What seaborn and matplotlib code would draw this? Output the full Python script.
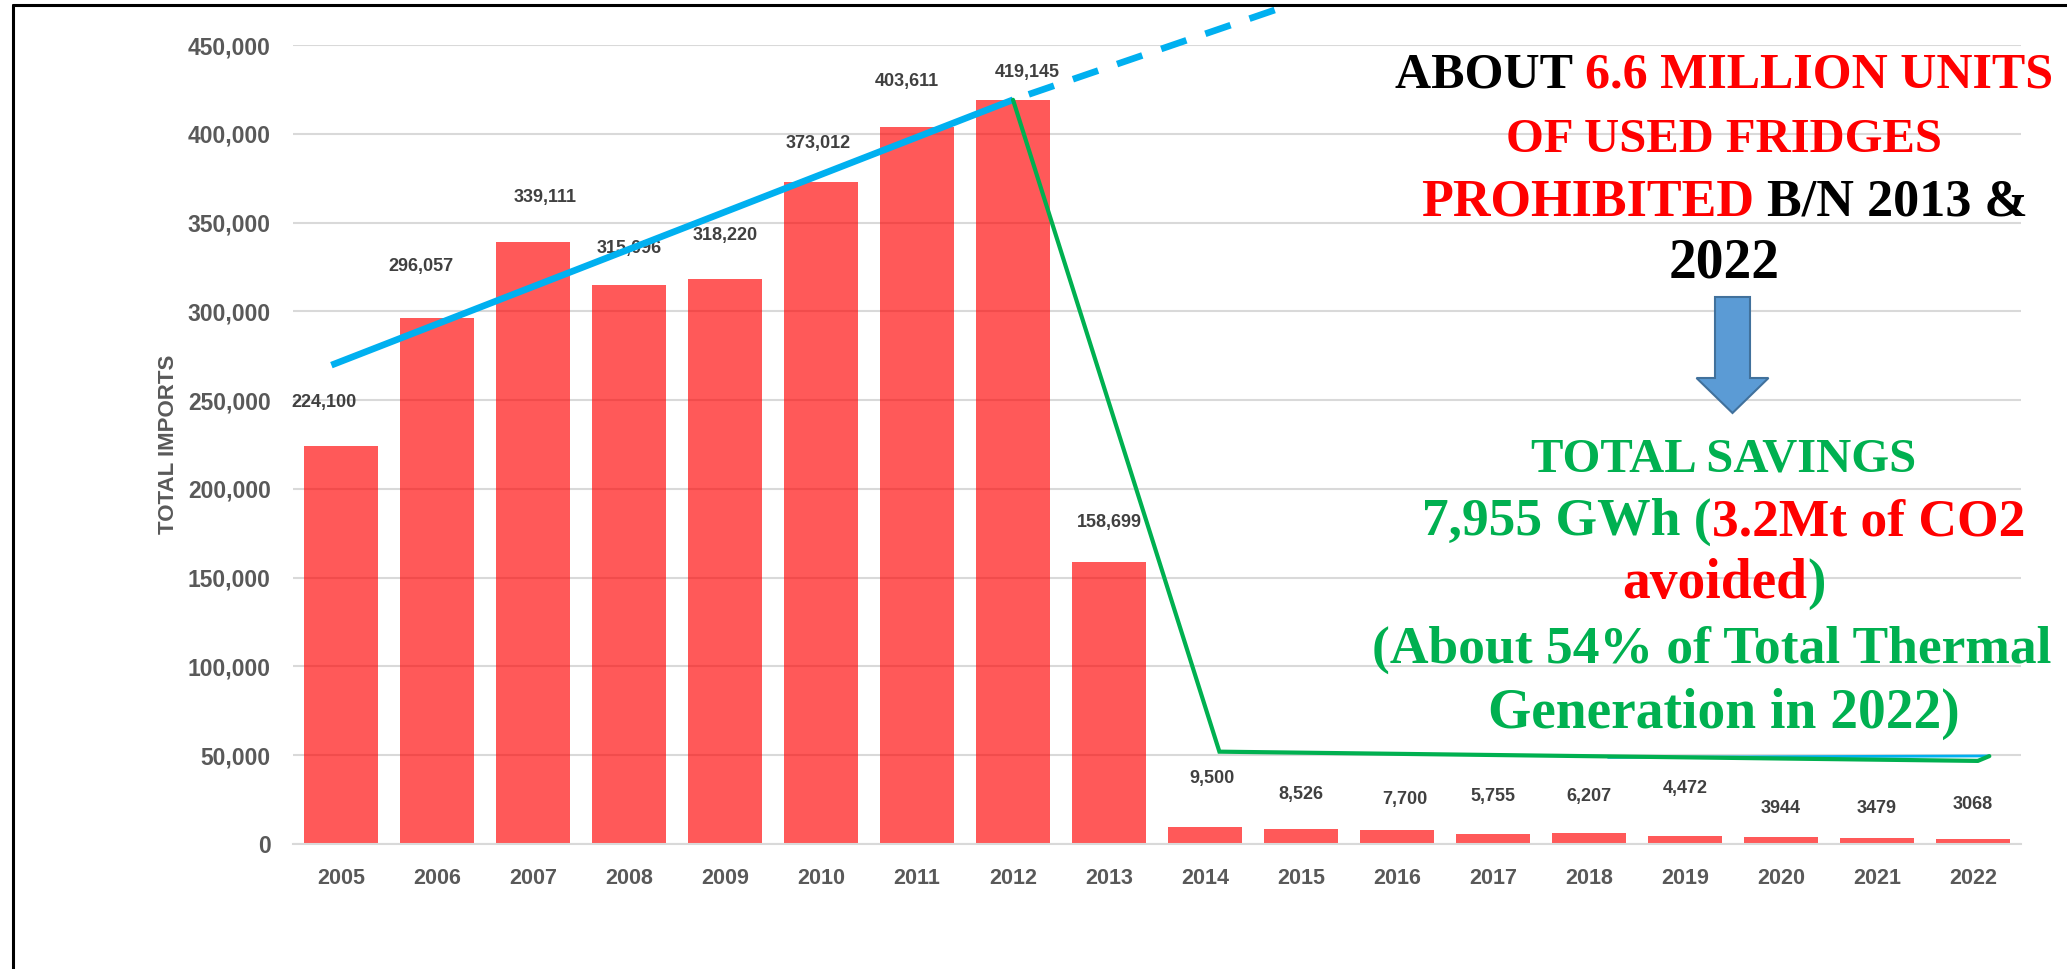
import matplotlib
matplotlib.use("Agg")
import matplotlib.pyplot as plt
from matplotlib.patches import FancyArrow
from matplotlib.lines import Line2D
from matplotlib.font_manager import FontProperties
import seaborn as sns
import pandas as pd

# datos
years = ["2005", "2006", "2007", "2008", "2009", "2010", "2011", "2012", "2013",
         "2014", "2015", "2016", "2017", "2018", "2019", "2020", "2021", "2022"]
imports = [224100, 296057, 339111, 315096, 318220, 373012, 403611, 419145, 158699,
           9500, 8526, 7700, 5755, 6207, 4472, 3944, 3479, 3068]
# las etiquetas de 2020 en adelante no llevan coma
bar_labels = [f"{v:,}" for v in imports[:15]] + [str(v) for v in imports[15:]]

# tendencia (azul) y caida (verde), en indice de categoria / unidades
trend_x = [-0.1, 7]
trend_y = [269700, 419145]
trend_dash_x = [7, 9.85]
trend_dash_y = [419145, 472000]
drop_x = [7, 9.15, 17.05, 17.17]
drop_y = [419145, 52000, 46800, 49500]

# posicion de las etiquetas (a mano, como en el original)
label_y = [248700, 325500, 364000, 335400, 342500, 394400, 429400, 434300, 181000,
           36800, 27900, 25300, 26600, 26800, 31300, 20200, 20200, 22300]
label_dx = [-0.18, -0.17, 0.13, 0, 0, -0.03, -0.11, 0.15, 0,
            0.07, 0, 0.08, 0, 0, 0, 0, 0, 0]

W, H = 2067, 969
sns.set_style("white")
plt.rcParams["font.family"] = ["Liberation Sans", "DejaVu Sans"]

fig = plt.figure(figsize=(W / 100, H / 100), dpi=100)
ax = fig.add_axes([293 / W, 1 - 844 / H, (2021 - 293) / W, (844 - 45) / H])

df = pd.DataFrame({"year": years, "imports": imports})
sns.barplot(data=df, x="year", y="imports", color="red", alpha=0.65, saturation=1,
            width=0.78, linewidth=0, ax=ax)

ax.set_xlim(-0.5, 17.5)
ax.set_ylim(0, 450000)
ax.set_yticks(range(0, 450001, 50000))
ax.set_yticklabels([f"{v:,}" for v in range(0, 450001, 50000)])
ax.yaxis.grid(True, color="#D9D9D9", lw=1.5)
ax.set_axisbelow(True)
for s in ["top", "right", "left"]:
    ax.spines[s].set_visible(False)
ax.spines["bottom"].set_color("#D9D9D9")
ax.spines["bottom"].set_linewidth(1.5)
ax.tick_params(axis="both", length=0, labelcolor="#595959")
ax.tick_params(axis="y", pad=16, labelsize=16.5)
ax.tick_params(axis="x", pad=17, labelsize=15.5)
for t in ax.get_xticklabels() + ax.get_yticklabels():
    t.set_fontweight("bold")
ax.set_xlabel("")
ax.set_ylabel("")
fig.text(169 / W, 1 - 444 / H, "TOTAL IMPORTS", rotation=90, ha="center", va="center",
         fontsize=16, fontweight="bold", color="#595959")

for i, lab in enumerate(bar_labels):
    ax.text(i + label_dx[i], label_y[i], lab, ha="center", va="center", fontsize=13,
            fontweight="bold", color="#404040", zorder=4)

# lineas
ax.plot(trend_x, trend_y, color="#00B0F0", lw=4.8, zorder=6, clip_on=False, solid_capstyle="butt")
ax.plot(trend_dash_x, trend_dash_y, color="#00B0F0", lw=4.8, ls=(4.5, (4, 3)), zorder=6,
        clip_on=False, dash_capstyle="butt")
ax.plot([13.2, 17.17], [48800, 49600], color="#00B0F0", lw=2, zorder=5)
ax.plot(drop_x, drop_y, color="#00B050", lw=3, zorder=6, solid_joinstyle="miter")

# texto grande a la derecha
renderer = fig.canvas.get_renderer()


def ancho(s, fp):
    w1, _, _ = renderer.get_text_width_height_descent("|" + s + "|", fp, ismath=False)
    w0, _, _ = renderer.get_text_width_height_descent("||", fp, ismath=False)
    return w1 - w0


def linea(segs, base_px, size, cx=1724):
    fp = FontProperties(family=["Liberation Serif", "DejaVu Serif"], weight="bold", size=size)
    ws = [ancho(s, fp) for s, c in segs]
    x = cx - sum(ws) / 2
    for (s, c), w in zip(segs, ws):
        fig.text(x / W, 1 - base_px / H, s, color=c, fontproperties=fp,
                 ha="left", va="baseline")
        x += w


k, r, g = "#000000", "#FF0000", "#00B050"
linea([("ABOUT ", k), ("6.6 MILLION UNITS", r)], 88, 36)
linea([("OF USED FRIDGES", r)], 152, 35)
linea([("PROHIBITED", r), (" B/N 2013 &", k)], 215, 37.5)
linea([("2022", k)], 278, 40)
linea([("TOTAL SAVINGS", g)], 472, 35)
linea([("7,955 GWh (", g), ("3.2Mt of CO2", r)], 535, 38.5)
linea([("avoided", r), (")", g)], 598, 40)
linea([("(About 54% of Total Thermal", g)], 663, 38.5, cx=1712)
linea([("Generation in 2022)", g)], 728, 40)

arrow = FancyArrow(1732.5 / W, 1 - 297 / H, 0, -(413 - 297) / H, width=35 / W,
                   head_width=72 / W, head_length=35 / H, length_includes_head=True,
                   fc="#5B9BD5", ec="#41719C", lw=1.5, transform=fig.transFigure)
fig.add_artist(arrow)

# marco (solo arriba e izquierda)
fig.add_artist(Line2D([12.5 / W, 12.5 / W], [0, 1 - 5 / H], color="black", lw=2.2))
fig.add_artist(Line2D([12.5 / W, 1], [1 - 5 / H, 1 - 5 / H], color="black", lw=2.2))

fig.savefig("out.png", dpi=100)
